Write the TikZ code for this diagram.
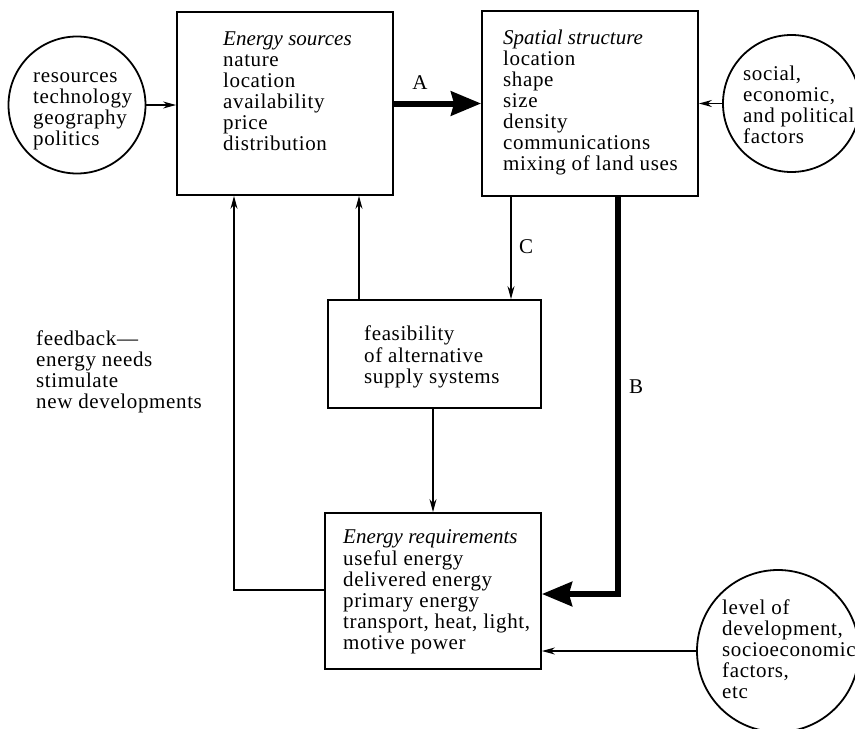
\documentclass[tikz,border=0pt]{standalone}
\usepackage{fontspec}
\setmainfont[UprightFeatures={LetterSpace=3}]{Liberation Serif}
\usetikzlibrary{arrows.meta}
\begin{document}
\begin{tikzpicture}[x=1pt,y=-1pt,
  box/.style={draw, line width=1.8pt, rectangle, inner sep=0pt},
  circ/.style={draw, line width=1.8pt, circle, inner sep=0pt},
  txt/.style={anchor=north west, inner sep=0pt, align=left, font=\fontsize{21}{21}\selectfont},
  lbl/.style={inner sep=0pt, font=\fontsize{21}{21}\selectfont},
  thinarrow/.style={line width=1.4pt, -{Stealth[length=13pt,width=7pt]}},
  thickarrow/.style={line width=6pt, -{Stealth[length=30pt,width=24pt,inset=3pt]}}]
\useasboundingbox (0,0) rectangle (855,729);
% boxes and circles
\node[box, minimum width=216pt, minimum height=183pt] (es) at (285,103.5) {};
\node[box, minimum width=216pt, minimum height=185pt] (ss) at (590,103.5) {};
\node[box, minimum width=213pt, minimum height=108pt] (fe) at (434.5,354) {};
\node[box, minimum width=216pt, minimum height=156pt] (er) at (433,591) {};
\node[circ, minimum size=137pt] (rc) at (77,105) {};
\node[circ, minimum size=137pt] (sc) at (791.5,103.5) {};
\node[circ, minimum size=162pt] (lc) at (778,651) {};
% texts
\node[txt] (estxt) at (223,30.3) {\strut\textit{Energy sources}\\nature\\location\\availability\\price\\distribution};
\node[txt] (sstxt) at (503,29.3) {\strut\textit{Spatial structure}\\location\\shape\\size\\density\\communications\\mixing of land uses};
\node[txt] (rctxt) at (33,67.3) {\strut resources\\technology\\geography\\politics};
\node[txt] (sctxt) at (743,65.3) {\strut social,\\economic,\\and political\\factors};
\node[txt] (fetxt) at (364,325.3) {\strut feasibility\\of alternative\\supply systems};
\node[txt] (ertxt) at (343,528.3) {\strut\textit{Energy requirements}\\useful energy\\delivered energy\\primary energy\\transport, heat, light,\\motive power};
\node[txt, font=\fontsize{21}{21}\selectfont\addfontfeatures{LetterSpace=0}] (lctxt) at (722,599.3) {\strut level of\\development,\\socioeconomic\\factors,\\etc};
\node[txt] (fbtxt) at (36,330.3) {\strut feedback---\\energy needs\\stimulate\\new developments};
\node[lbl] (lA) at (420,83) {A};
\node[lbl] (lC) at (526,247) {C};
\node[lbl] (lB) at (636,387) {B};
% helper coordinates
\coordinate (xC) at (511,250);
\coordinate (xF) at (359,250);
\coordinate (bcorner) at (618,594);
\coordinate (fbcorner) at (234,590);
% connectors
\draw[thinarrow] (rc.east) -- (rc.east -| es.west);
\draw[thinarrow] (sc.west) -- (sc.west -| ss.east);
\draw[thickarrow] (es.east) -- (es.east -| ss.west);
\draw[thickarrow] (ss.south -| bcorner) -- (bcorner) -- (bcorner -| er.east);
\draw[thinarrow] (ss.south -| xC) -- (fe.north -| xC);
\draw[thinarrow] (fe.north -| xF) -- (es.south -| xF);
\draw[thinarrow] (fe.south -| er.north) -- (er.north);
\draw[thinarrow] (fbcorner -| er.west) -- (fbcorner) -- (fbcorner |- es.south);
\draw[thinarrow] (lc.west) -- (lc.west -| er.east);
\end{tikzpicture}
\end{document}
